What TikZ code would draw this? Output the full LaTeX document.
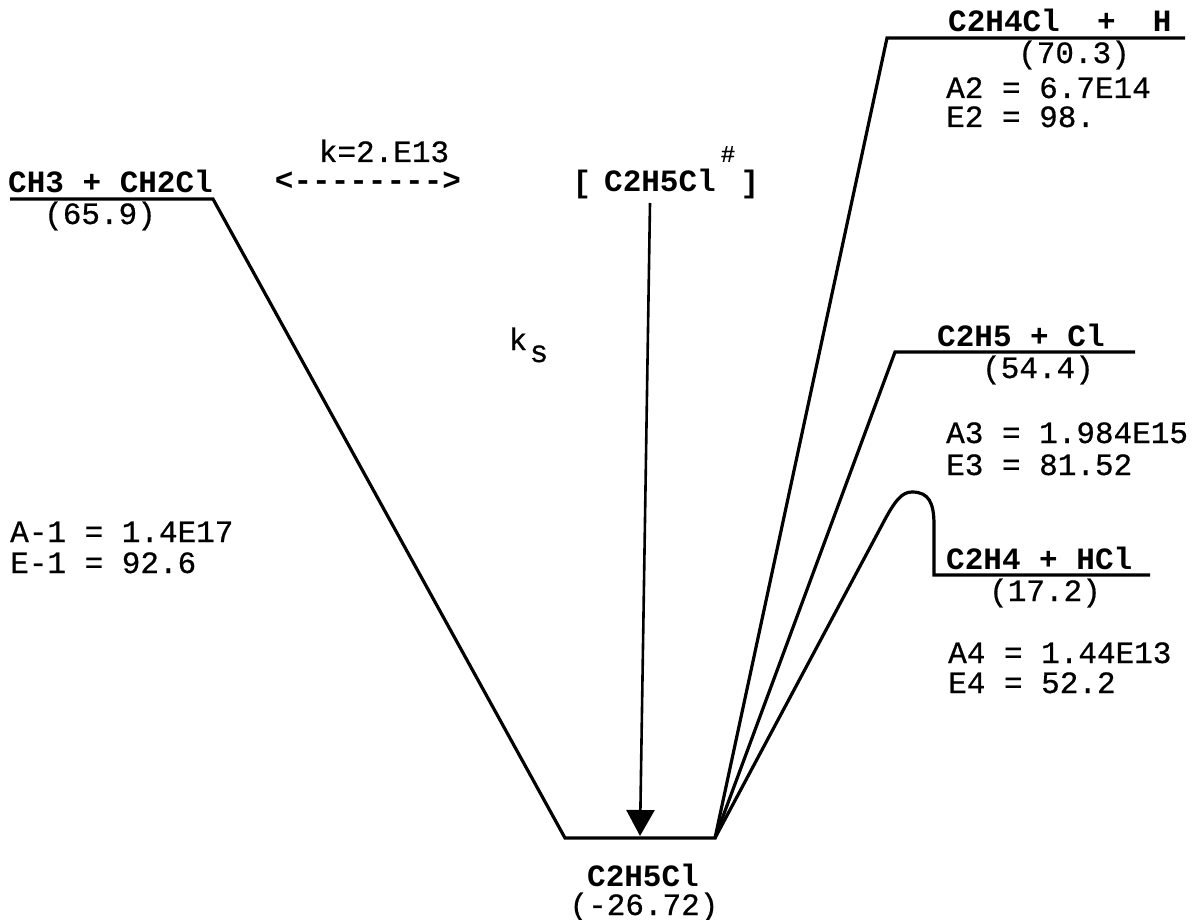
\documentclass[tikz,border=0pt]{standalone}
\usepackage{fontspec}
\setmonofont{Liberation Mono}
\newfontface\valfont[FakeBold=0.6]{Liberation Mono}
\usetikzlibrary{arrows.meta}
\begin{document}
\begin{tikzpicture}[x=1pt,y=-1pt,
  conn/.style={line width=3.2pt, line join=miter},
  arr/.style={line width=2.6pt, -{Triangle[length=26pt,width=28pt]}},
  spec/.style={font=\fontsize{31}{31}\selectfont\ttfamily\bfseries, inner sep=0pt},
  val/.style={font=\fontsize{31}{31}\selectfont\valfont, inner sep=0pt},
]
\useasboundingbox[fill=white] (0,0) rectangle (1197,920);

% level coordinates
\coordinate (L1) at (10,199);
\coordinate (L2) at (213,199);
\coordinate (B1) at (565,838);
\coordinate (B2) at (715,838);
\coordinate (T1) at (887,38);
\coordinate (T2) at (1185,38);
\coordinate (M1) at (895,352);
\coordinate (M2) at (1135,352);
\coordinate (H1) at (934,575);
\coordinate (H2) at (1150,575);

\draw[conn] (L1) -- (L2) -- (B1) -- (B2) -- (T1) -- (T2);
\draw[conn] (B2) -- (M1) -- (M2);
\draw[conn] (B2) -- (882,525) .. controls (895,500) and (902,492) .. (912,492)
   .. controls (929,492) and (934,503) .. (934,525) -- (H1) -- (H2);

% arrow k_s
\coordinate (As) at (650,203);
\coordinate (Ae) at (640,836);
\draw[arr] (As) -- (Ae);

% labels
\node[spec, anchor=base west] (r1) at (8,193) {CH3 + CH2Cl};
\node[val, anchor=base] (r1e) at (100,224) {(65.9)};
\node[val, anchor=base] (kf) at (384,162) {k=2.E13};
\node[spec, anchor=base] (dbl) at (368,191) {<-------->};
\node[spec, anchor=base] (lb) at (582,193) {[};
\node[spec, anchor=base] (tsn) at (660,192) {C2H5Cl};
\node[spec, anchor=base] (rb) at (750,193) {]};
\node[val, font=\fontsize{24}{24}\selectfont\valfont] (hash) at (728,154) {\#};
\node[val, anchor=base] (ks) at (518,350) {k};
\node[val, anchor=base] (kss) at (539,362) {s};

\node[spec, anchor=base west] (p2) at (948,32) {C2H4Cl~~+~~H};
\node[val, anchor=base] (p2e) at (1074,63) {(70.3)};
\node[val, anchor=base west] (a2) at (946,98) {A2 = 6.7E14};
\node[val, anchor=base west] (e2) at (946,127) {E2 = 98.};

\node[spec, anchor=base west] (p3) at (937,346) {C2H5 + Cl};
\node[val, anchor=base] (p3e) at (1038,378) {(54.4)};
\node[val, anchor=base west] (a3) at (946,443) {A3 = 1.984E15};
\node[val, anchor=base west] (e3) at (946,475) {E3 = 81.52};

\node[spec, anchor=base west] (p4) at (946,569) {C2H4 + HCl};
\node[val, anchor=base] (p4e) at (1045,601) {(17.2)};
\node[val, anchor=base west] (a4) at (948,663) {A4 = 1.44E13};
\node[val, anchor=base west] (e4) at (948,693) {E4 = 52.2};

\node[val, anchor=base west] (am1) at (10,542) {A-1 = 1.4E17};
\node[val, anchor=base west] (em1) at (10,573) {E-1 = 92.6};

\node[spec, anchor=base] (bot) at (643,886) {C2H5Cl};
\node[val, anchor=base] (bote) at (644,915) {(-26.72)};
\end{tikzpicture}
\end{document}
